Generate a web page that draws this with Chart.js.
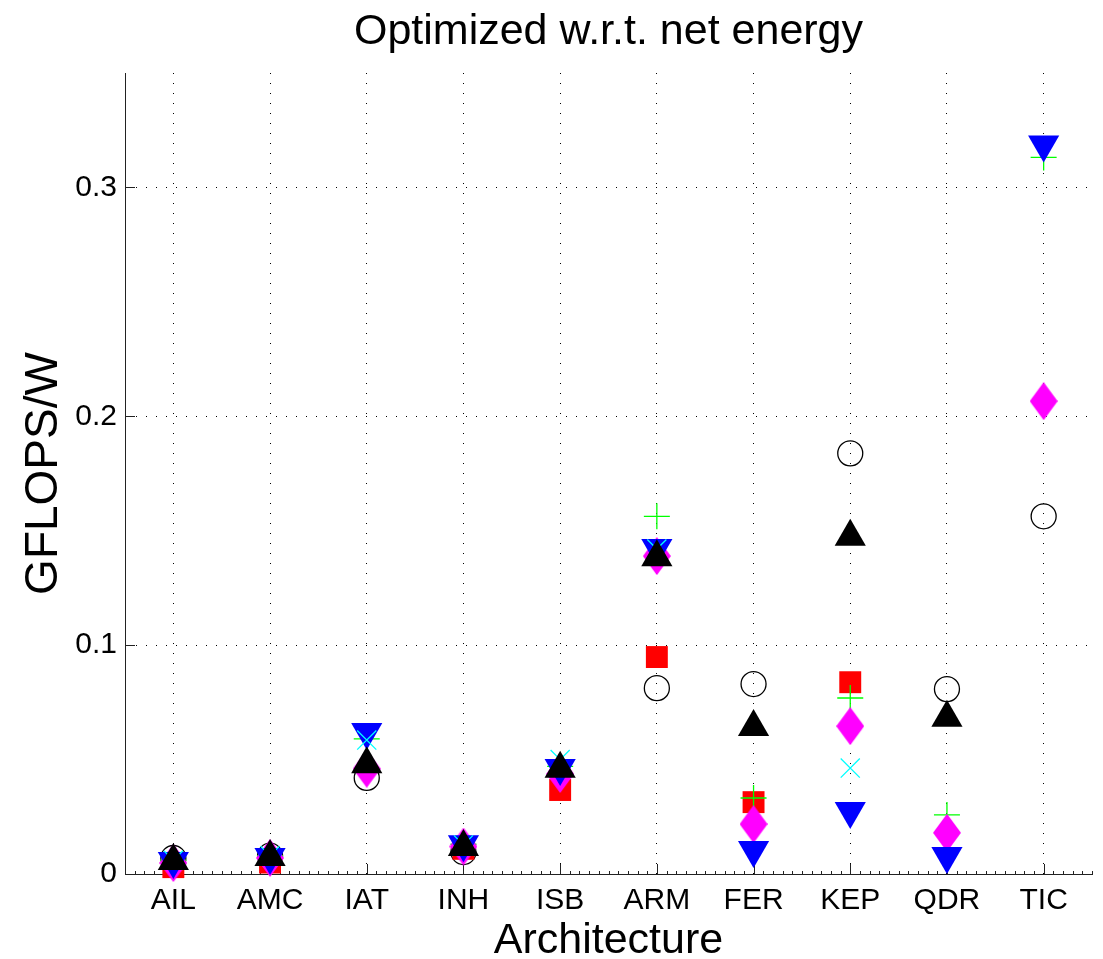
<!DOCTYPE html>
<html>
<head>
<meta charset="utf-8">
<style>
  html, body { margin: 0; padding: 0; background: #fff; }
  #wrap { width: 1103px; height: 959px; }
</style>
<script src="https://cdn.jsdelivr.net/npm/chart.js@4/dist/chart.umd.min.js"></script>
</head>
<body>
<div id="wrap"><canvas id="energyChart" width="1103" height="959"></canvas></div>
<script>
const categories = ["AIL", "AMC", "IAT", "INH", "ISB", "ARM", "FER", "KEP", "QDR", "TIC"];
const yTicks = [0, 0.1, 0.2, 0.3];

// one array per marker, top-most first
const blackUp    = [0.0057, 0.0074, 0.048, 0.0118, 0.046, 0.1384, 0.0642, 0.1474, 0.0683, null];
const cyanX      = [0.006, 0.008, 0.0585, 0.0127, 0.050, 0.142, null, 0.0463, null, null];
const blueDown   = [0.0057, 0.0074, 0.062, 0.013, 0.0463, 0.1424, 0.0105, 0.0275, 0.0079, 0.3188];
const magentaDia = [0.0048, 0.007, 0.046, 0.012, 0.0437, 0.1389, 0.0218, 0.0646, 0.018, 0.2066];
const greenPlus  = [0.006, 0.008, 0.059, 0.013, 0.047, 0.1563, 0.0332, 0.0769, 0.0258, 0.3131];
const redSquare  = [0.003, 0.005, null, 0.011, 0.0367, 0.0948, 0.0314, 0.0838, null, null];
const openCircle = [0.007, 0.008, 0.042, 0.0096, null, 0.0812, 0.083, 0.1838, 0.0808, 0.1563];

const FONT = "'Liberation Sans', Arial, Helvetica, sans-serif";

// matlab diamond is taller than wide
function diamondImg() {
    const c = document.createElement("canvas");
    c.width = 28;
    c.height = 38;
    const g = c.getContext("2d");
    g.fillStyle = "#ff00ff";
    g.beginPath();
    g.moveTo(14, 0);
    g.lineTo(28, 19);
    g.lineTo(14, 38);
    g.lineTo(0, 19);
    g.closePath();
    g.fill();
    return c;
}

function marker(data, style, color, radius, fill, extra) {
    return Object.assign({
        data: data,
        showLine: false,
        pointStyle: style,
        pointRadius: radius,
        pointHoverRadius: radius,
        pointBorderColor: color,
        pointBackgroundColor: fill ? color : "rgba(0,0,0,0)",
        pointBorderWidth: fill ? 0 : 1.3,
        clip: false,
    }, extra || {});
}

function noPad(s) {
    s.paddingLeft = 0;
    s.paddingRight = 0;
    s.paddingTop = 0;
    s.paddingBottom = 0;
}

// inward ticks + titles, matlab style
const matlabDecor = {
    id: "matlabDecor",
    beforeDatasetsDraw(chart) {
        const { ctx, chartArea: a, scales } = chart;
        ctx.save();
        ctx.strokeStyle = "#222";
        ctx.lineWidth = 1;
        ctx.beginPath();
        yTicks.forEach((v) => {
            const y = Math.round(scales.y.getPixelForValue(v)) + 0.5;
            ctx.moveTo(a.left, y);
            ctx.lineTo(a.left + 10, y);
        });
        for (let i = 0; i <= 100; i++) {
            const x = Math.round(scales.x.getPixelForValue(-0.5 + i / 10)) + 0.5;
            const len = (i % 10 === 5) ? 10 : 3;
            ctx.moveTo(x, a.bottom);
            ctx.lineTo(x, a.bottom - len);
        }
        ctx.stroke();
        ctx.restore();
    },
    afterDraw(chart) {
        const { ctx, chartArea: a } = chart;
        const cx = (a.left + a.right) / 2;
        const cy = (a.top + a.bottom) / 2;
        ctx.save();
        ctx.fillStyle = "#000";
        ctx.textAlign = "center";
        ctx.textBaseline = "alphabetic";
        ctx.font = "43px " + FONT;
        ctx.fillText("Optimized w.r.t. net energy", cx, 44);
        ctx.font = "43px " + FONT;
        ctx.fillText("Architecture", cx, 953);
        ctx.translate(57, cy);
        ctx.rotate(-Math.PI / 2);
        ctx.font = "46px " + FONT;
        ctx.fillText("GFLOPS/W", 0, 0);
        ctx.restore();
    },
};

const ctx = document.getElementById("energyChart").getContext("2d");

new Chart(ctx, {
    type: "line",
    data: {
        labels: categories,
        datasets: [
            marker(blackUp, "triangle", "#000000", 18, true),
            marker(cyanX, "crossRot", "#00ffff", 13.5, false),
            marker(blueDown, "triangle", "#0000ff", 18, true, { pointRotation: 180 }),
            marker(magentaDia, diamondImg(), "#ff00ff", 19, true),
            marker(greenPlus, "cross", "#00ff00", 13, false),
            marker(redSquare, "rect", "#ff0000", 15.5, true),
            marker(openCircle, "circle", "#000000", 12.5, false),
        ],
    },
    options: {
        responsive: false,
        animation: false,
        events: [],
        layout: {
            autoPadding: false,
            padding: { top: 73, right: 11, left: 0, bottom: 0 },
        },
        plugins: {
            legend: { display: false },
            title: { display: false },
            tooltip: { enabled: false },
        },
        scales: {
            x: {
                type: "category",
                offset: true,
                grid: {
                    offset: false,
                    color: "#000",
                    lineWidth: 1,
                    drawTicks: false,
                },
                border: { color: "#222", width: 1, dash: [1, 9] },
                ticks: {
                    color: "#000",
                    padding: 9,
                    font: { family: FONT, size: 30 },
                    maxRotation: 0,
                    autoSkip: false,
                },
                afterFit: (s) => { s.height = 85; noPad(s); },
            },
            y: {
                min: 0,
                max: 0.35,
                afterBuildTicks: (s) => {
                    s.ticks = yTicks.map((v) => ({ value: v }));
                },
                grid: {
                    color: "#000",
                    lineWidth: 1,
                    drawTicks: false,
                },
                border: { color: "#222", width: 1, dash: [1, 9] },
                ticks: {
                    color: "#000",
                    padding: 8,
                    font: { family: FONT, size: 30 },
                    callback: (v) => String(Math.round(v * 10) / 10),
                },
                afterFit: (s) => { s.width = 125; noPad(s); },
            },
        },
    },
    plugins: [matlabDecor],
});
</script>
</body>
</html>
